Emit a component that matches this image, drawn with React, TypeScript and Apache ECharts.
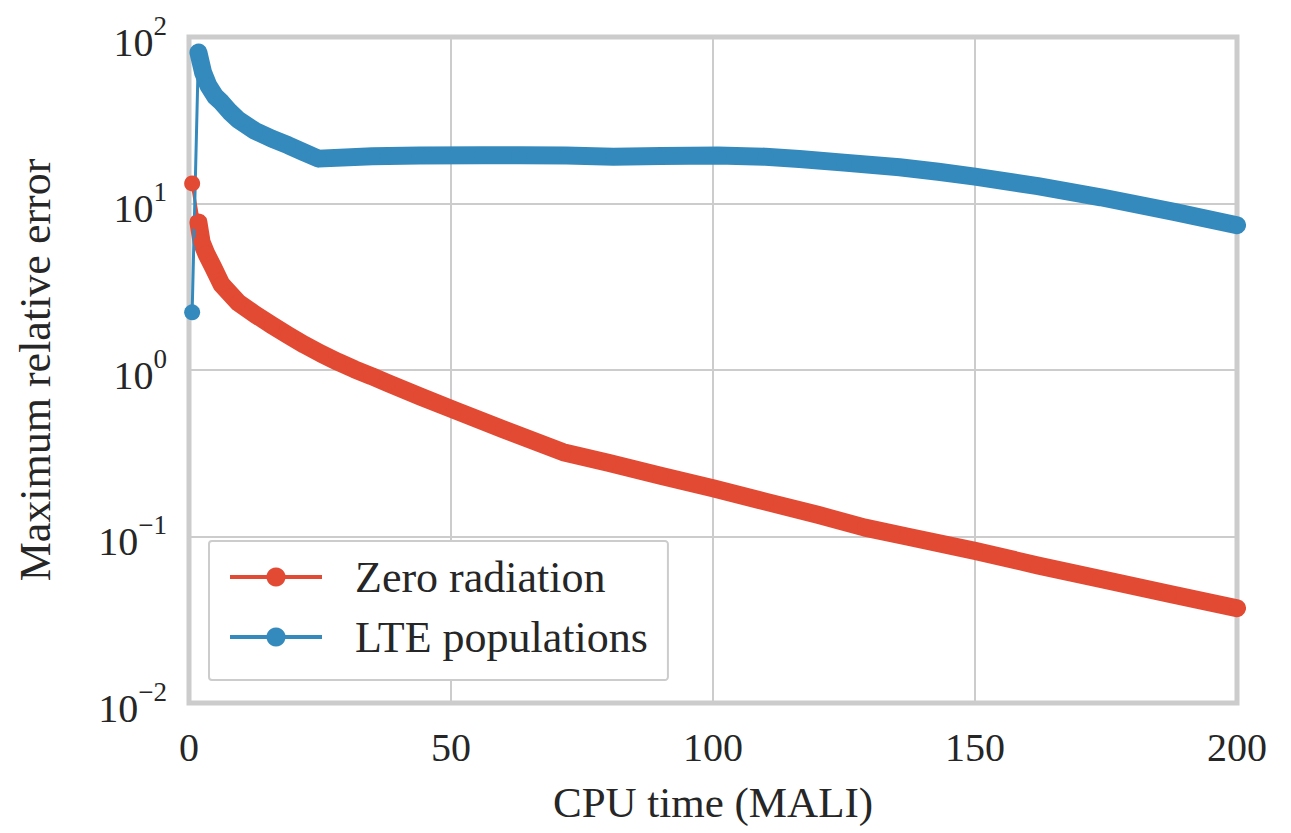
import React, { useEffect, useRef } from "react";
import * as echarts from "echarts";

const zeroX = [0.6, 1.8, 2.4, 3.3, 4.6, 6.2, 9.4, 12.6, 15.8, 18.9, 22, 25.2, 28.4, 31.6, 34.8, 37.9, 44.3, 50.6, 60, 71.4, 80, 90, 100, 110, 120, 129, 137, 150, 162, 174, 187, 200];
const zeroY = [13.2, 7.7, 5.87, 5.0, 4.15, 3.27, 2.54, 2.16, 1.86, 1.62, 1.42, 1.253, 1.12, 1.01, 0.92, 0.835, 0.69, 0.575, 0.44, 0.321, 0.277, 0.232, 0.195, 0.162, 0.135, 0.113, 0.1, 0.082, 0.067, 0.0556, 0.0453, 0.0371];

const lteX = [0.6, 1.8, 2.7, 3.7, 5, 6.2, 7.8, 9.4, 12.6, 15.8, 18.9, 21.8, 24.7, 35, 44, 56, 63, 72, 81, 90, 101, 110, 116.5, 125, 135.6, 143, 150, 162, 174, 188, 200];
const lteY = [2.22, 80.7, 61, 51, 44, 40.5, 35.5, 31.8, 27.3, 24.5, 22.4, 20.4, 18.6, 19.2, 19.45, 19.5, 19.5, 19.4, 19.1, 19.3, 19.4, 19.1, 18.5, 17.6, 16.5, 15.5, 14.5, 12.7, 10.9, 8.9, 7.4];

const seriesNames = ["Zero radiation", "LTE populations"];
const xTickValues = [0, 50, 100, 150, 200];

const RED = "#E24A33";
const BLUE = "#348ABD";
const FONT = "Liberation Serif";
const TEXT = "#262626";

export default function App() {
  const ref = useRef<HTMLDivElement>(null);
  useEffect(() => {
    const chart = echarts.init(ref.current!, null, { renderer: "svg" });
    const zero = zeroX.map((x, i) => [x, zeroY[i]]);
    const lte = lteX.map((x, i) => [x, lteY[i]]);
    const markerSeries = (name: string, data: number[][], color: string) => ({
      name,
      type: "line",
      data,
      symbol: "circle",
      symbolSize: 16,
      showAllSymbol: true,
      lineStyle: { width: 3, color },
      itemStyle: { color },
      z: 3,
    });
    const bandSeries = (name: string, data: number[][], color: string) => ({
      name,
      type: "line",
      data: data.slice(1),
      symbol: "none",
      lineStyle: { width: 18, color, cap: "round", join: "round" },
      itemStyle: { color },
      z: 3,
    });
    chart.setOption({
      animation: false,
      backgroundColor: "#ffffff",
      textStyle: { fontFamily: FONT },
      grid: {
        left: 189,
        right: 54,
        top: 37,
        bottom: 130,
        show: true,
        borderColor: "#cccccc",
        borderWidth: 5,
        backgroundColor: "transparent",
      },
      legend: {
        data: seriesNames,
        orient: "vertical",
        left: 209,
        top: 541,
        backgroundColor: "#ffffff",
        borderColor: "#cccccc",
        borderWidth: 2,
        borderRadius: 3,
        padding: [14, 20, 21, 19],
        itemWidth: 92,
        itemHeight: 24,
        itemGap: 16,
        lineStyle: { width: 4 },
        textStyle: {
          fontFamily: FONT,
          fontSize: 44,
          color: TEXT,
          padding: [0, 0, 0, 28],
        },
      },
      xAxis: {
        type: "value",
        min: 0,
        max: 200,
        interval: 50,
        name: "CPU time (MALI)",
        nameLocation: "middle",
        nameGap: 78,
        nameTextStyle: { fontFamily: FONT, fontSize: 43, color: TEXT },
        axisLine: { show: false },
        axisTick: { show: false },
        axisLabel: {
          fontFamily: FONT,
          fontSize: 40,
          color: TEXT,
          margin: 24,
          formatter: (v: number) => (xTickValues.includes(v) ? String(v) : ""),
        },
        splitLine: { show: true, lineStyle: { color: "#cccccc", width: 2 } },
      },
      yAxis: {
        type: "log",
        logBase: 10,
        min: 0.01,
        max: 100,
        name: "Maximum relative error",
        nameLocation: "middle",
        nameGap: 132,
        nameTextStyle: { fontFamily: FONT, fontSize: 44, color: TEXT },
        axisLine: { show: false },
        axisTick: { show: false },
        axisLabel: {
          margin: 22,
          formatter: (v: number) => {
            const e = Math.round(Math.log10(v));
            const s = e < 0 ? "\u2212" + -e : String(e);
            return "{b|10}{s|" + s + "}";
          },
          rich: {
            b: { fontFamily: FONT, fontSize: 40, color: TEXT, lineHeight: 50, verticalAlign: "bottom" },
            s: { fontFamily: FONT, fontSize: 27, color: TEXT, lineHeight: 27, verticalAlign: "top" },
          },
        },
        splitLine: { show: true, lineStyle: { color: "#cccccc", width: 2 } },
      },
      series: [
        markerSeries(seriesNames[0], zero, RED),
        bandSeries("band-zero", zero, RED),
        markerSeries(seriesNames[1], lte, BLUE),
        bandSeries("band-lte", lte, BLUE),
      ],
    });
    return () => chart.dispose();
  }, []);
  return (
    <div
      ref={ref}
      style={{ position: "fixed", left: 0, top: 0, width: 1291, height: 833 }}
    />
  );
}
